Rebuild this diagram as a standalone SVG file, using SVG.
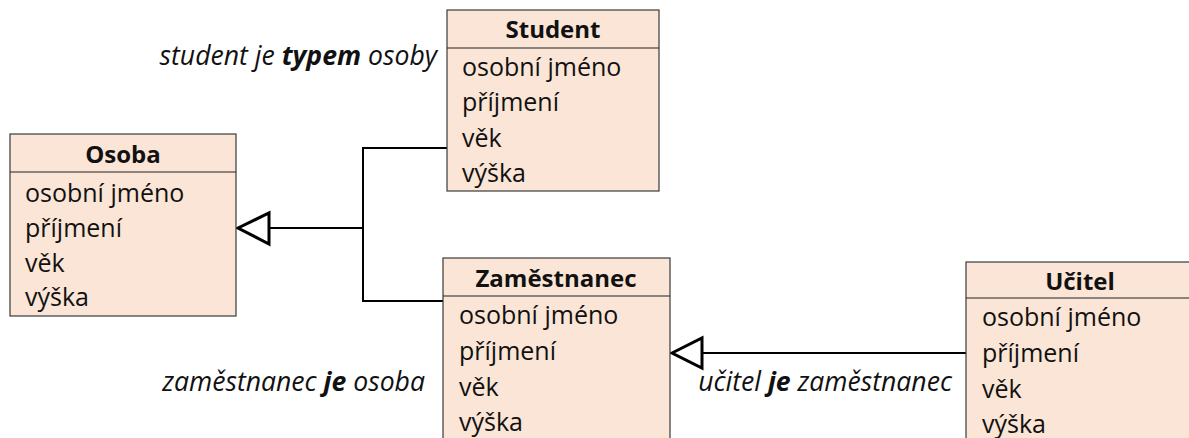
<svg xmlns="http://www.w3.org/2000/svg" width="1189" height="438" viewBox="0 0 1189 438">
  <style>
    .box { fill: #fbe5d6; stroke: #3a3a3a; stroke-width: 1.2; }
    .sep { stroke: #222; stroke-width: 1.2; }
    .title { font-family: "Open Sans", "Noto Sans", sans-serif; font-size: 24px; font-weight: bold; fill: #111; text-anchor: middle; }
    .attr { font-family: "Open Sans", "Noto Sans", sans-serif; font-size: 25px; fill: #111; }
    .note { font-family: "Open Sans", "Noto Sans", sans-serif; font-size: 26.6px; font-style: italic; fill: #111; }
    .note tspan.b { font-weight: bold; }
    .line { fill: none; stroke: #000; stroke-width: 2; }
    .head { fill: #fff; stroke: #000; stroke-width: 3; stroke-linejoin: miter; }
  </style>

  <!-- generalisation connectors -->
  <g id="connectors">
    <polyline class="line" points="447,148 363,148 363,301 443,301"/>
    <line class="line" x1="363" y1="228" x2="269" y2="228"/>
    <polygon class="head" points="238,228 269,213 269,244"/>
    <line class="line" x1="966" y1="353" x2="702" y2="353"/>
    <polygon class="head" points="672,353 702,338 702,368"/>
  </g>

  <g id="osoba">
    <rect class="box" x="10" y="134" width="226" height="182"/>
    <line class="sep" x1="10" y1="172" x2="236" y2="172"/>
    <text class="title" x="123" y="163">Osoba</text>
    <text class="attr" x="25" y="202">osobní jméno</text>
    <text class="attr" x="25" y="237">příjmení</text>
    <text class="attr" x="25" y="272">věk</text>
    <text class="attr" x="25" y="306">výška</text>
  </g>

  <g id="student">
    <rect class="box" x="447" y="10" width="212" height="181"/>
    <line class="sep" x1="447" y1="48" x2="659" y2="48"/>
    <text class="title" x="553" y="38">Student</text>
    <text class="attr" x="462" y="76">osobní jméno</text>
    <text class="attr" x="462" y="111">příjmení</text>
    <text class="attr" x="462" y="147">věk</text>
    <text class="attr" x="462" y="182">výška</text>
  </g>

  <g id="zamestnanec">
    <rect class="box" x="443" y="258" width="227" height="190"/>
    <line class="sep" x1="443" y1="296" x2="670" y2="296"/>
    <text class="title" x="556" y="287">Zaměstnanec</text>
    <text class="attr" x="459" y="324">osobní jméno</text>
    <text class="attr" x="459" y="360">příjmení</text>
    <text class="attr" x="459" y="396">věk</text>
    <text class="attr" x="459" y="431">výška</text>
  </g>

  <g id="ucitel">
    <rect class="box" x="966" y="262" width="228" height="190"/>
    <line class="sep" x1="966" y1="298" x2="1194" y2="298"/>
    <text class="title" x="1080" y="290">Učitel</text>
    <text class="attr" x="982" y="326">osobní jméno</text>
    <text class="attr" x="982" y="362">příjmení</text>
    <text class="attr" x="982" y="398">věk</text>
    <text class="attr" x="982" y="433">výška</text>
  </g>

  <g id="notes">
    <text class="note" x="437" y="65" text-anchor="end">student je <tspan class="b">typem</tspan> osoby</text>
    <text class="note" x="425" y="391" text-anchor="end">zaměstnanec <tspan class="b">je</tspan> osoba</text>
    <text class="note" x="952" y="391" text-anchor="end">učitel <tspan class="b">je</tspan> zaměstnanec</text>
  </g>
</svg>
